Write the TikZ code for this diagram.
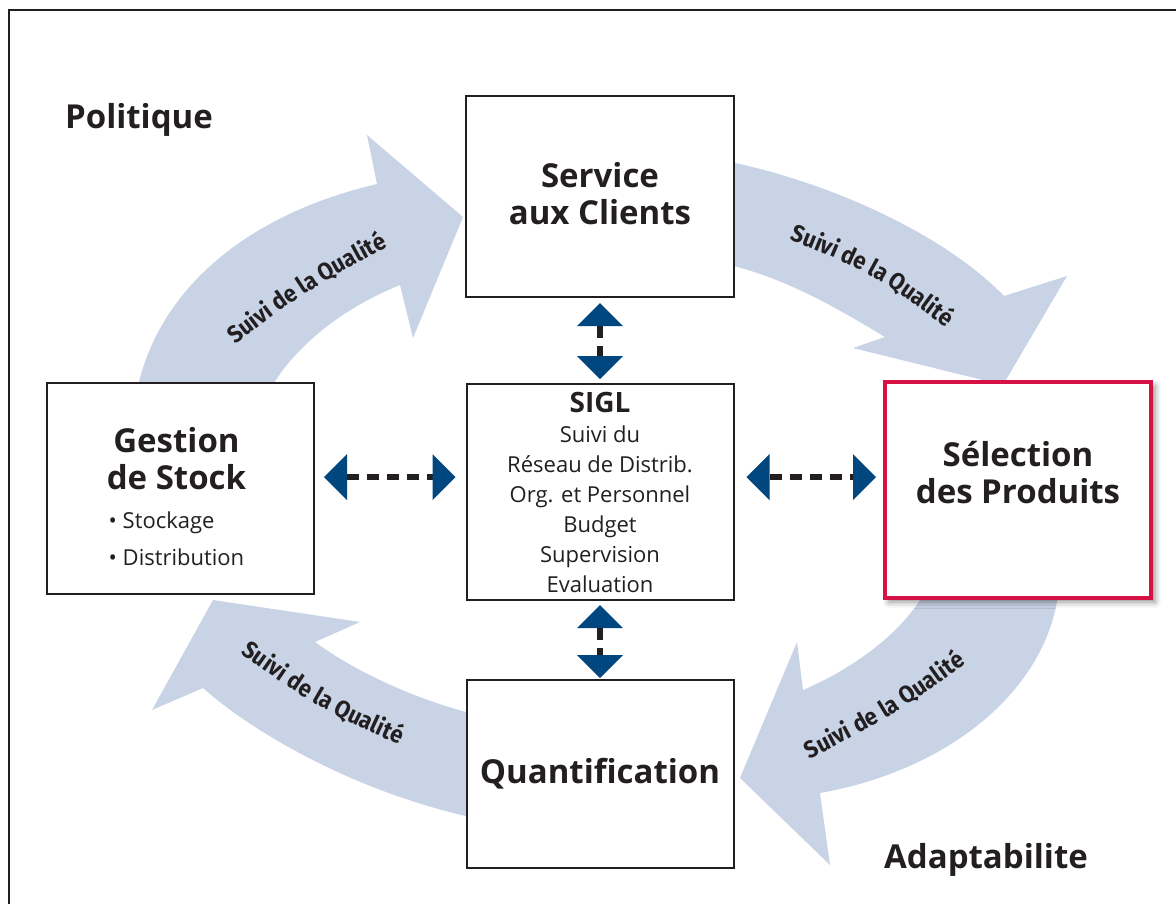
\documentclass[tikz,border=0pt]{standalone}
\usepackage{fontspec}
\setmainfont{Open Sans}
\newfontfamily\condfont[FakeStretch=0.92]{Fira Sans}
\usetikzlibrary{arrows.meta,shadows.blur,decorations.text}

\definecolor{flowblue}{RGB}{200,211,229}
\definecolor{navy}{RGB}{0,70,127}
\definecolor{boxred}{RGB}{213,18,67}
\definecolor{inkgray}{RGB}{35,31,32}

\newcommand{\titlefont}{\fontsize{33}{37}\selectfont\bfseries}
\newcommand{\bodyfont}{\fontsize{22}{30}\selectfont\mdseries}
\newcommand{\arcfont}{\condfont\bfseries\fontsize{24}{28}\selectfont}

\begin{document}
\begin{tikzpicture}[
        x=1pt, y=-1pt,
        box/.style={draw=inkgray, line width=2pt, fill=white, align=center, text=inkgray, inner sep=0pt},
        redbox/.style={box, draw=boxred, line width=4pt,
            blur shadow={shadow xshift=4pt, shadow yshift=-4pt, shadow blur radius=6pt, shadow opacity=45}},
        flow/.style={fill=flowblue},
        link/.style={draw=inkgray, line width=6pt, dash pattern=on 12pt off 8pt, {Triangle[width=46pt, length=23pt, line width=0pt, color=navy]}-{Triangle[width=46pt, length=23pt, line width=0pt, color=navy]}},
        heading/.style={font=\titlefont, text=inkgray, align=center},
        arclabel/.style={decorate, decoration={text along path, text align=center, raise=-7pt,
            text color=inkgray, text={|\arcfont|Suivi de la Qualité}}}
    ]
        \useasboundingbox (0,0) rectangle (1176,903);

        % Frame
        \draw[inkgray, line width=2pt] (1180,10) -- (9,10) -- (9,910);

        % Quality arrows
        \fill[flow] (138,386) .. controls (160,290) and (245,215) .. (377,184) -- (367,135) -- (463,217) -- (413,338)
            -- (400,285) .. controls (350,305) and (300,340) .. (272,386) -- cycle;
        \fill[flow] (730,162) .. controls (820,180) and (940,230) .. (1004,296) -- (1067,276) -- (1003,385) -- (853,348)
            -- (885,337) .. controls (840,310) and (790,280) .. (730,265) -- cycle;
        \fill[flow] (1058,595) .. controls (1045,690) and (950,770) .. (820,793) -- (830,865) -- (740,778) -- (797,642)
            -- (803,690) .. controls (850,670) and (900,635) .. (923,595) -- cycle;
        \fill[flow] (470,713) .. controls (420,700) and (360,675) .. (315,642) -- (360,622) -- (213,600) -- (152,710)
            -- (203,688) .. controls (250,730) and (350,790) .. (470,817) -- cycle;

        \path[arclabel] (207,358) .. controls (304,283) .. (412,226);
        \path[arclabel] (763,222) .. controls (877,266) .. (975,341);
        \path[arclabel] (779,767) .. controls (887,712) .. (987,640);
        \path[arclabel] (220,630) .. controls (319,701) .. (430,751);

        % Boxes
        \node[box, minimum width=268pt, minimum height=201pt] (service) at (600,196.5) {};
        \node[heading] (servicetext) at ([yshift=3pt]service.center) {Service\\aux Clients};
        \node[box, minimum width=267pt, minimum height=216pt, font=\bodyfont] (sigl) at (600,492)
            {{\fontsize{28}{30}\selectfont\bfseries SIGL}\\Suivi du\\Réseau de Distrib.\\Org. et Personnel\\Budget\\Supervision\\Evaluation};
        \node[box, minimum width=267pt, minimum height=188pt, font=\titlefont] (quant) at (600,774) {Quantification};
        \node[box, minimum width=267pt, minimum height=211pt] (gestion) at (180.5,488.5) {};
        \node[heading] (gestiontext) at ([xshift=-4pt, yshift=-8pt]gestion.center)
            {Gestion\\de Stock\\[2pt]{\bodyfont\rlap{• Stockage}\phantom{• Distribution}}\\{\bodyfont • Distribution}};
        \node[redbox, minimum width=266pt, minimum height=216pt] (selection) at (1018,490) {};
        \node[heading] (selectiontext) at ([yshift=17pt]selection.center) {Sélection\\des Produits};

        % Headings
        \node[heading] (politique) at (139,120) {Politique};
        \node[heading] (adapt) at (986,860) {Adaptabilite};

        % Links to SIGL
        \coordinate (row) at (0,477);
        \draw[link, shorten <=5pt, shorten >=4pt] (service) -- (sigl);
        \draw[link, shorten <=4pt, shorten >=1pt] (sigl) -- (quant);
        \draw[link, shorten <=9pt, shorten >=10pt] (gestion.east |- row) -- (sigl.west |- row);
        \draw[link, shorten <=12pt, shorten >=7pt] (sigl.east |- row) -- (selection.west |- row);
    \end{tikzpicture}
\end{document}
